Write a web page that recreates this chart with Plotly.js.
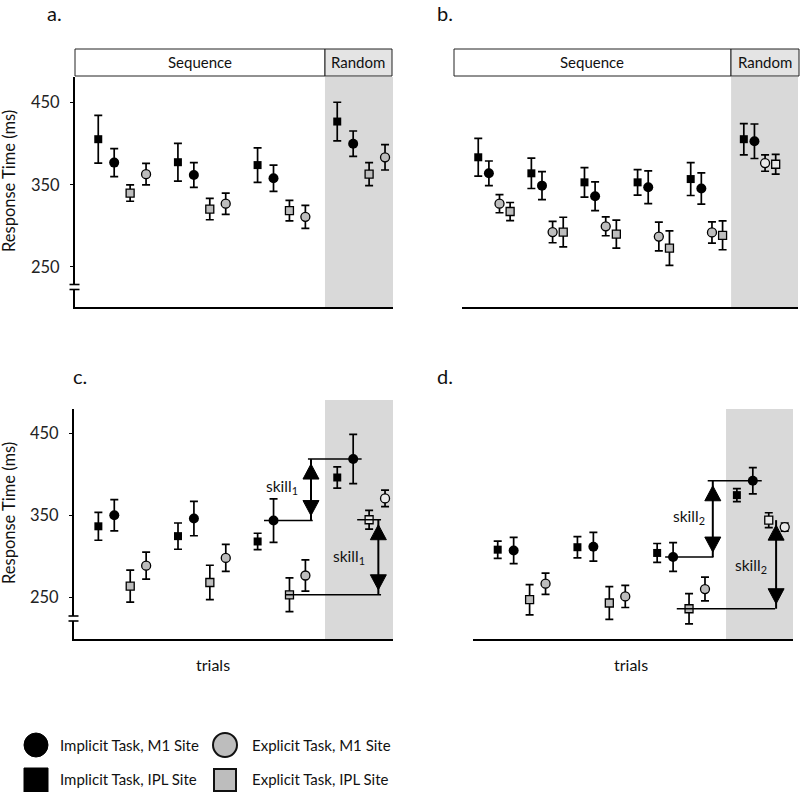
<!DOCTYPE html>
<html>
<head>
<meta charset="utf-8">
<script src="https://cdn.plot.ly/plotly-3.0.1.min.js"></script>
<style>
  html, body { margin: 0; padding: 0; background: #fff; }
  #chart { width: 800px; height: 792px; }
</style>
</head>
<body>
<div id="chart"></div>
<script>

// ---- data (response time in ms, mean and error) ----

// blocks: sequence blocks then the random block
var blocksA = [0, 1, 2, 3]
var blocksB = [0, 1, 2, 3, 4, 5]

// panel a
var a_implicitIPL = [405.5, 377.5, 374, 427]
var a_implicitIPL_err = [29, 23, 21, 23.5]
var a_implicitM1 = [377, 362, 358, 400]
var a_implicitM1_err = [17, 15, 16, 15.5]
var a_explicitIPL = [340, 320.5, 318.5, 363]
var a_explicitIPL_err = [10, 13, 12.5, 14]
var a_explicitM1 = [363, 327, 311, 383.5]
var a_explicitM1_err = [13, 13, 14, 15.5]

// panel b
var b_implicitIPL = [383.5, 364, 353, 353, 357, 405.5]
var b_implicitIPL_err = [23, 18.5, 18, 15.5, 20, 19]
var b_implicitM1 = [364, 349, 336, 347, 345.5, 403]
var b_implicitM1_err = [15, 17, 17.5, 20, 19, 21]
var b_explicitM1 = [327, 292.5, 299.5, 287, 292, 376.5]
var b_explicitM1_err = [11, 13, 11.5, 17.5, 13, 10]
var b_explicitIPL = [317.5, 292.5, 290, 273, 288.5, 375]
var b_explicitIPL_err = [11, 18, 17, 21, 17.5, 12]

// panel c
var c_implicitIPL = [337, 325, 318.5, 396.5]
var c_implicitIPL_err = [17, 16, 10, 13]
var c_implicitM1 = [350.5, 346.5, 344, 419]
var c_implicitM1_err = [19, 21, 26.5, 30]
var c_explicitIPL = [264, 268.5, 253.5, 345]
var c_explicitIPL_err = [19.5, 21, 20.5, 11.5]
var c_explicitM1 = [289, 298.5, 277, 371]
var c_explicitM1_err = [16.5, 16.5, 19, 10]

// panel d
var d_implicitIPL = [308.5, 311.5, 304.5, 375]
var d_implicitIPL_err = [10.5, 13, 11.5, 8]
var d_implicitM1 = [307.5, 312, 299.5, 392.5]
var d_implicitM1_err = [16, 17.5, 17.5, 16]
var d_explicitIPL = [247.5, 243.5, 236.5, 344.5]
var d_explicitIPL_err = [18.5, 20, 18.5, 9]
var d_explicitM1 = [267, 251.5, 260.5, 336]
var d_explicitM1_err = [13, 13.5, 14.5, 5]

var yTicks = [250, 350, 450]
var legendLabels = ['Implicit Task, M1 Site', 'Explicit Task, M1 Site',
                    'Implicit Task, IPL Site', 'Explicit Task, IPL Site']


// ---- helpers ----

var W = 800, H = 792
var FONT = 'Lato, "Open Sans", sans-serif'
function px (x) { return x / W }
function py (y) { return 1 - y / H }

var GREY_BG = '#d9d9d9'
var GREY_MK = '#bdbdbd'
var GREY_MK_LIGHT = '#e9e9e9'

var styles = {
    implicitM1:  {symbol: 'circle', size: 10, color: '#000', line: 0},
    implicitIPL: {symbol: 'square', size: 8,  color: '#000', line: 0},
    explicitM1:  {symbol: 'circle', size: 9,  color: GREY_MK, line: 1.3},
    explicitIPL: {symbol: 'square', size: 8,  color: GREY_MK, line: 1.3},
}

// one trace per condition; x = block*5 + slot inside the block
function makeTrace (axisId, blocks, slot, y, err, kind, lightRandom) {
    var st = styles[kind]
    var xs = blocks.map(function (b) { return b * 5 + slot })
    var colors = blocks.map(function (b, i) {
        if (st.color == '#000') return '#000'
        return (lightRandom && i == blocks.length - 1) ? GREY_MK_LIGHT : st.color
    })
    return {
        type: 'scatter', mode: 'markers',
        x: xs, y: y,
        xaxis: 'x' + axisId, yaxis: 'y' + axisId,
        marker: {symbol: st.symbol, size: st.size, color: colors,
                 line: {color: '#000', width: st.line}},
        error_y: {type: 'data', array: err, visible: true,
                  color: '#000', thickness: 1.7, width: 4},
        hoverinfo: 'x+y', showlegend: false,
    }
}

var traces = [
    // a: IPL, M1, explicit IPL, explicit M1
    makeTrace('', blocksA, 0, a_implicitIPL, a_implicitIPL_err, 'implicitIPL', false),
    makeTrace('', blocksA, 1, a_implicitM1, a_implicitM1_err, 'implicitM1', false),
    makeTrace('', blocksA, 2, a_explicitIPL, a_explicitIPL_err, 'explicitIPL', false),
    makeTrace('', blocksA, 3, a_explicitM1, a_explicitM1_err, 'explicitM1', false),
    // b: IPL, M1, explicit M1, explicit IPL
    makeTrace('2', blocksB, 0, b_implicitIPL, b_implicitIPL_err, 'implicitIPL', true),
    makeTrace('2', blocksB, 1, b_implicitM1, b_implicitM1_err, 'implicitM1', true),
    makeTrace('2', blocksB, 2, b_explicitM1, b_explicitM1_err, 'explicitM1', true),
    makeTrace('2', blocksB, 3, b_explicitIPL, b_explicitIPL_err, 'explicitIPL', true),
    // c
    makeTrace('3', blocksA, 0, c_implicitIPL, c_implicitIPL_err, 'implicitIPL', true),
    makeTrace('3', blocksA, 1, c_implicitM1, c_implicitM1_err, 'implicitM1', true),
    makeTrace('3', blocksA, 2, c_explicitIPL, c_explicitIPL_err, 'explicitIPL', true),
    makeTrace('3', blocksA, 3, c_explicitM1, c_explicitM1_err, 'explicitM1', true),
    // d
    makeTrace('4', blocksA, 0, d_implicitIPL, d_implicitIPL_err, 'implicitIPL', true),
    makeTrace('4', blocksA, 1, d_implicitM1, d_implicitM1_err, 'implicitM1', true),
    makeTrace('4', blocksA, 2, d_explicitIPL, d_explicitIPL_err, 'explicitIPL', true),
    makeTrace('4', blocksA, 3, d_explicitM1, d_explicitM1_err, 'explicitM1', true),
]


// ---- axes ----

function xAx (domain, range) {
    return {domain: domain, range: range, showgrid: false, zeroline: false,
            showticklabels: false, ticks: '', showline: true,
            linecolor: '#000', linewidth: 2, fixedrange: true}
}
function yAx (domain, range, labelled) {
    return {domain: domain, range: range, showgrid: false, zeroline: false,
            showline: labelled, linecolor: '#000', linewidth: 2,
            showticklabels: labelled, tickvals: yTicks,
            ticks: labelled ? 'outside' : '', ticklen: 3, tickwidth: 1,
            tickcolor: '#000', ticklabelstandoff: 7,
            tickfont: {family: FONT, size: 16.5, color: '#222'}, fixedrange: true}
}

var rangeA = [-1.46, 18.5], rangeB = [-1.53, 30.1]
var rangeC = [-1.53, 18.5], rangeD = [-1.55, 18.52]
var yTop = [201.3, 481.2], yBot = [199.6, 480]


// ---- shapes ----

var shapes = []

// random-block shading
shapes.push({type: 'rect', xref: 'x', yref: 'paper', x0: 14.23, x1: rangeA[1], y0: py(307), y1: py(77),
             fillcolor: GREY_BG, line: {width: 0}, layer: 'below'})
shapes.push({type: 'rect', xref: 'x2', yref: 'paper', x0: 23.8, x1: rangeB[1], y0: py(307), y1: py(77),
             fillcolor: GREY_BG, line: {width: 0}, layer: 'below'})
shapes.push({type: 'rect', xref: 'x3', yref: 'paper', x0: 14.23, x1: rangeC[1], y0: py(639), y1: py(400),
             fillcolor: GREY_BG, line: {width: 0}, layer: 'below'})
shapes.push({type: 'rect', xref: 'x4', yref: 'paper', x0: 14.32, x1: rangeD[1], y0: py(639), y1: py(409),
             fillcolor: GREY_BG, line: {width: 0}, layer: 'below'})

// header boxes
function headerBox (x0, x1, fill) {
    shapes.push({type: 'rect', xref: 'paper', yref: 'paper', x0: px(x0), x1: px(x1), y0: py(76), y1: py(49),
                 fillcolor: fill, line: {color: '#222', width: 1}})
}
headerBox(75, 325, '#fff'); headerBox(325, 392, '#e4e4e4')
headerBox(454, 731, '#fff'); headerBox(731, 799, '#e4e4e4')

// axis breaks on the labelled y axes
function axisBreak (xAxis, yA, yB) {
    shapes.push({type: 'rect', xref: 'paper', yref: 'paper', x0: px(xAxis - 3), x1: px(xAxis + 3),
                 y0: py(yB), y1: py(yA), fillcolor: '#fff', line: {width: 0}})
    ;[yA, yB].forEach(function (yy) {
        shapes.push({type: 'line', xref: 'paper', yref: 'paper', x0: px(xAxis - 5.5), x1: px(xAxis + 4.5),
                     y0: py(yy), y1: py(yy), line: {color: '#000', width: 1.6}})
    })
}
axisBreak(75, 284.5, 289.5)
axisBreak(74, 616, 621)

// skill annotations: reference lines + double arrow with big heads
function hLine (ax, x0, x1, y) {
    shapes.push({type: 'line', xref: 'x' + ax, yref: 'y' + ax, x0: x0, x1: x1, y0: y, y1: y,
                 line: {color: '#000', width: 1.5}})
}
function dblArrow (ax, x, yHigh, yLow) {
    shapes.push({type: 'line', xref: 'x' + ax, yref: 'y' + ax, x0: x, x1: x, y0: yLow, y1: yHigh,
                 line: {color: '#000', width: 2}})
    shapes.push({type: 'path', xref: 'x' + ax, yref: 'y' + ax, xsizemode: 'pixel', ysizemode: 'pixel',
                 xanchor: x, yanchor: yHigh, path: 'M0,-5 L-8,-20 L8,-20 Z',
                 fillcolor: '#000', line: {color: '#000', width: 1}})
    shapes.push({type: 'path', xref: 'x' + ax, yref: 'y' + ax, xsizemode: 'pixel', ysizemode: 'pixel',
                 xanchor: x, yanchor: yLow, path: 'M0,5 L-8,20 L8,20 Z',
                 fillcolor: '#000', line: {color: '#000', width: 1}})
}

// panel c
hLine('3', 13.16, 16.53, c_implicitM1[3])
hLine('3', 10.4, 13.46, c_implicitM1[2])
dblArrow('3', 13.35, c_implicitM1[3], c_implicitM1[2])
hLine('3', 16.25, 17.75, c_explicitIPL[3])
hLine('3', 11.72, 17.75, c_explicitIPL[2])
dblArrow('3', 17.58, c_explicitIPL[3], c_explicitIPL[2])

// panel d
hLine('4', 13.17, 16.56, d_implicitM1[3])
hLine('4', 10.5, 13.53, d_implicitM1[2])
dblArrow('4', 13.49, d_implicitM1[3], d_implicitM1[2])
hLine('4', 11.23, 17.4, d_explicitIPL[2])
dblArrow('4', 17.46, d_explicitIPL[3], d_explicitIPL[2])

// legend swatches
shapes.push({type: 'circle', xref: 'paper', yref: 'paper', x0: px(24), x1: px(48), y0: py(757), y1: py(733),
             fillcolor: '#000', line: {color: '#000', width: 1}})
shapes.push({type: 'circle', xref: 'paper', yref: 'paper', x0: px(213), x1: px(237), y0: py(757), y1: py(733),
             fillcolor: GREY_MK, line: {color: '#111', width: 2}})
shapes.push({type: 'rect', xref: 'paper', yref: 'paper', x0: px(24), x1: px(48), y0: py(792), y1: py(768),
             fillcolor: '#000', line: {color: '#000', width: 1}})
shapes.push({type: 'rect', xref: 'paper', yref: 'paper', x0: px(214), x1: px(236), y0: py(791), y1: py(769),
             fillcolor: GREY_MK, line: {color: '#111', width: 2}})


// ---- text ----

var annotations = []
function label (x, y, text, size, opts) {
    var a = {xref: 'paper', yref: 'paper', x: px(x), y: py(y), text: text, showarrow: false,
             font: {family: FONT, size: size, color: '#111'}, xanchor: 'center', yanchor: 'middle'}
    for (var k in (opts || {})) a[k] = opts[k]
    annotations.push(a)
}

label(54, 13, 'a.', 20); label(445, 13, 'b.', 20)
label(80, 376, 'c.', 20); label(445, 376, 'd.', 20)

label(200, 62, 'Sequence', 15); label(358, 62, 'Random', 15)
label(592, 62, 'Sequence', 15); label(765, 62, 'Random', 15)

label(9, 181, 'Response Time (ms)', 16.5, {textangle: -90})
label(9, 513, 'Response Time (ms)', 16.5, {textangle: -90})

label(213, 664, 'trials', 16); label(631, 664, 'trials', 16)

label(282, 487, 'skill<sub>1</sub>', 15.5)
label(349, 557, 'skill<sub>1</sub>', 15.5)
label(689, 517, 'skill<sub>2</sub>', 15.5)
label(751, 566, 'skill<sub>2</sub>', 15.5)

label(58, 745, legendLabels[0], 15, {xanchor: 'left'})
label(250, 745, legendLabels[1], 15, {xanchor: 'left'})
label(58, 779, legendLabels[2], 15, {xanchor: 'left'})
label(250, 779, legendLabels[3], 15, {xanchor: 'left'})


var layout = {
    width: W, height: H,
    margin: {l: 0, r: 0, t: 0, b: 0},
    paper_bgcolor: '#fff', plot_bgcolor: 'rgba(0,0,0,0)',
    showlegend: false,
    xaxis:  xAx([px(75), px(393)], rangeA),
    yaxis:  yAx([py(307), py(77)], yTop, true),
    xaxis2: xAx([px(462), px(798)], rangeB),
    yaxis2: yAx([py(307), py(77)], yTop, false),
    xaxis3: xAx([px(74), px(393)], rangeC),
    yaxis3: yAx([py(639), py(409)], yBot, true),
    xaxis4: xAx([px(473), px(793)], rangeD),
    yaxis4: yAx([py(639), py(409)], yBot, false),
    shapes: shapes,
    annotations: annotations,
}
layout.xaxis.anchor = 'y';   layout.yaxis.anchor = 'x'
layout.xaxis2.anchor = 'y2'; layout.yaxis2.anchor = 'x2'
layout.xaxis3.anchor = 'y3'; layout.yaxis3.anchor = 'x3'
layout.xaxis4.anchor = 'y4'; layout.yaxis4.anchor = 'x4'

Plotly.newPlot('chart', traces, layout, {displayModeBar: false, staticPlot: true})

</script>
</body>
</html>
